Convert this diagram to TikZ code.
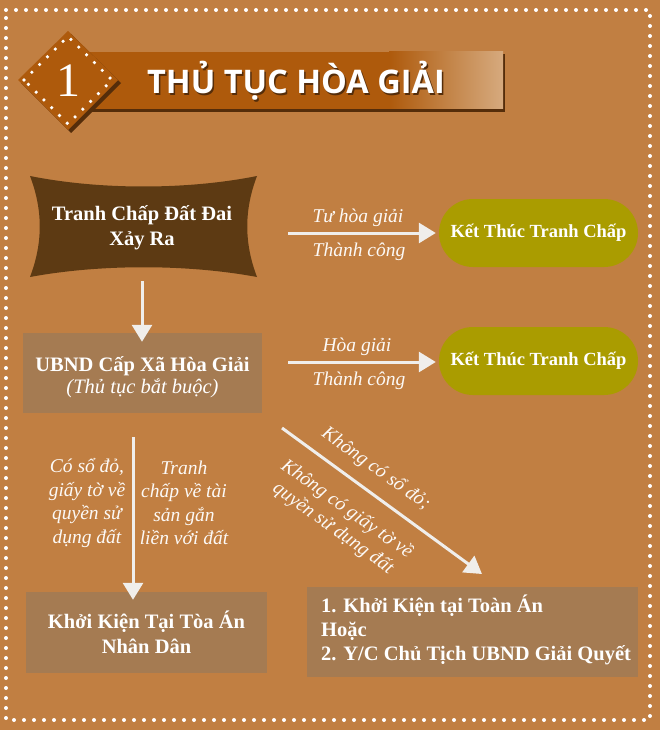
\documentclass[tikz,border=0pt]{standalone}
\usepackage{fontspec}
\setmainfont{Liberation Serif}
\newfontfamily\titlefont{Open Sans}
\usetikzlibrary{arrows.meta}
\definecolor{bg}{RGB}{193,127,66}
\definecolor{darkbrown}{RGB}{93,58,19}
\definecolor{boxbrown}{RGB}{165,123,82}
\definecolor{olive}{RGB}{170,156,0}
\definecolor{banner}{RGB}{174,90,12}
\definecolor{bannerlight}{RGB}{214,170,126}
\definecolor{shadowc}{RGB}{85,45,10}
\definecolor{arrowc}{RGB}{240,238,235}
\tikzset{
  arr/.style={draw=arrowc, line width=3pt, -{Triangle[length=17pt,width=20pt]}},
  maintext/.style={text=white, font=\bfseries\fontsize{20.5}{24.5}\selectfont, align=center},
  pilltext/.style={text=white, font=\bfseries\fontsize{18.5}{22}\selectfont},
  lbl/.style={text=white!95!bg, font=\itshape\fontsize{19.5}{23.5}\selectfont, align=center},
  dots/.style={draw=white, line width=4pt, line cap=round, dash pattern=on 0pt off 10pt},
  boxfill/.style={fill=boxbrown, inner sep=0pt},
  pill/.style={fill=olive, rounded corners=34pt, minimum width=199pt, minimum height=68pt, pilltext},
}
\begin{document}
\begin{tikzpicture}[x=1pt,y=-1pt]
\useasboundingbox (0,0) rectangle (660,730);
\fill[bg] (0,0) rectangle (660,730);
% dotted frame
\draw[dots] (6,10) -- (650,10) -- (650,720) -- (6,720) -- cycle;
% banner
\fill[shadowc] (90,54) rectangle (505,112);
\fill[banner] (88,52) rectangle (390,109);
\shade[left color=banner, right color=bannerlight] (389,52) rectangle (503,109);
% diamond
\fill[shadowc] (21,83) -- (71,34) -- (121,83) -- (71,133) -- cycle;
\fill[banner] (18,80) -- (68,31) -- (118,80) -- (68,130) -- cycle;
\draw[dots, line width=3.6pt, dash pattern=on 0pt off 11pt] (24,80) -- (68,36.5) -- (112,80) -- (68,124) -- cycle;
\node[text=white, font=\fontsize{48}{48}\selectfont, anchor=base] (num) at (68,97) {1};
\node[text=shadowc, font=\titlefont\bfseries\fontsize{32.5}{32.5}\selectfont, anchor=base] (titleshadow) at (297.5,95.5) {THỦ TỤC HÒA GIẢI};
\node[text=white, font=\titlefont\bfseries\fontsize{32.5}{32.5}\selectfont, anchor=base] (title) at (296,94) {THỦ TỤC HÒA GIẢI};
% node 1 concave shape
\fill[darkbrown] (30,176) .. controls (100,190) and (187,190) .. (257,176)
  .. controls (244,210) and (244,243) .. (257,277)
  .. controls (187,264) and (100,264) .. (30,277)
  .. controls (43,243) and (43,210) .. (30,176) -- cycle;
\node[maintext] (n1) at (142,228) {Tranh Chấp Đất Đai\\Xảy Ra};
% end nodes
\node[pill] (e1) at (538.5,233) {Kết Thúc Tranh Chấp};
\node[pill] (e2) at (538.5,361) {Kết Thúc Tranh Chấp};
% node 2
\node[boxfill, minimum width=239pt, minimum height=80pt] (n2) at (142.5,373) {};
\node[text=white, align=center, font=\fontsize{20.5}{22}\selectfont] (n2t) at (n2.center) [yshift=-4pt]
  {{\bfseries UBND Cấp Xã Hòa Giải}\\{\itshape (Thủ tục bắt buộc)}};
% node 3
\node[boxfill, minimum width=241pt, minimum height=81pt, maintext] (n3) at (146.5,632.5) {Khởi Kiện Tại Tòa Án\\Nhân Dân};
% node 4
\node[boxfill, minimum width=331pt, minimum height=90pt] (n4) at (472.5,632) {};
\node[text=white, font=\bfseries\fontsize{20.5}{24}\selectfont, align=left, anchor=west, inner sep=0pt] (n4t) at (321,630)
  {1. Khởi Kiện tại Toàn Án\\Hoặc\\2. Y/C Chủ Tịch UBND Giải Quyết};
% connectors
\coordinate (a1s) at (288,233);
\coordinate (a1e) at (e1.west |- a1s);
\coordinate (a2s) at (288,362);
\coordinate (a2e) at (e2.west |- a2s);
\draw[arr] (a1s) -- ([xshift=-3pt]a1e);
\draw[arr] (a2s) -- ([xshift=-3pt]a2e);
\draw[arr] (142,281) coordinate (a3s) -- ([yshift=-9pt]n2.north -| a3s);
\draw[arr] (133,437) coordinate (a4s) -- ([yshift=-8pt]n3.north -| a4s);
\draw[arr] (282,428) coordinate (a5s) -- (482,574) coordinate (a5e);
% labels
\node[lbl, anchor=base] (l1) at (358,222) {Tư hòa giải};
\node[lbl, anchor=base] (l2) at (359,256) {Thành công};
\node[lbl, anchor=base] (l3) at (357,351) {Hòa giải};
\node[lbl, anchor=base] (l4) at (359,385) {Thành công};
\node[lbl] (l5) at (87,503) {Có sổ đỏ,\\giấy tờ về\\quyền sử\\dụng đất};
\node[lbl] (l6) at (184,503) {Tranh\\chấp về tài\\sản gắn\\liền với đất};
\node[lbl, rotate=-35.5] (l7) at (376,469) {Không có sổ đỏ;};
\node[lbl, rotate=-35.5] (l8) at (340,519) {Không có giấy tờ về\\quyền sử dụng đất};
\end{tikzpicture}
\end{document}
